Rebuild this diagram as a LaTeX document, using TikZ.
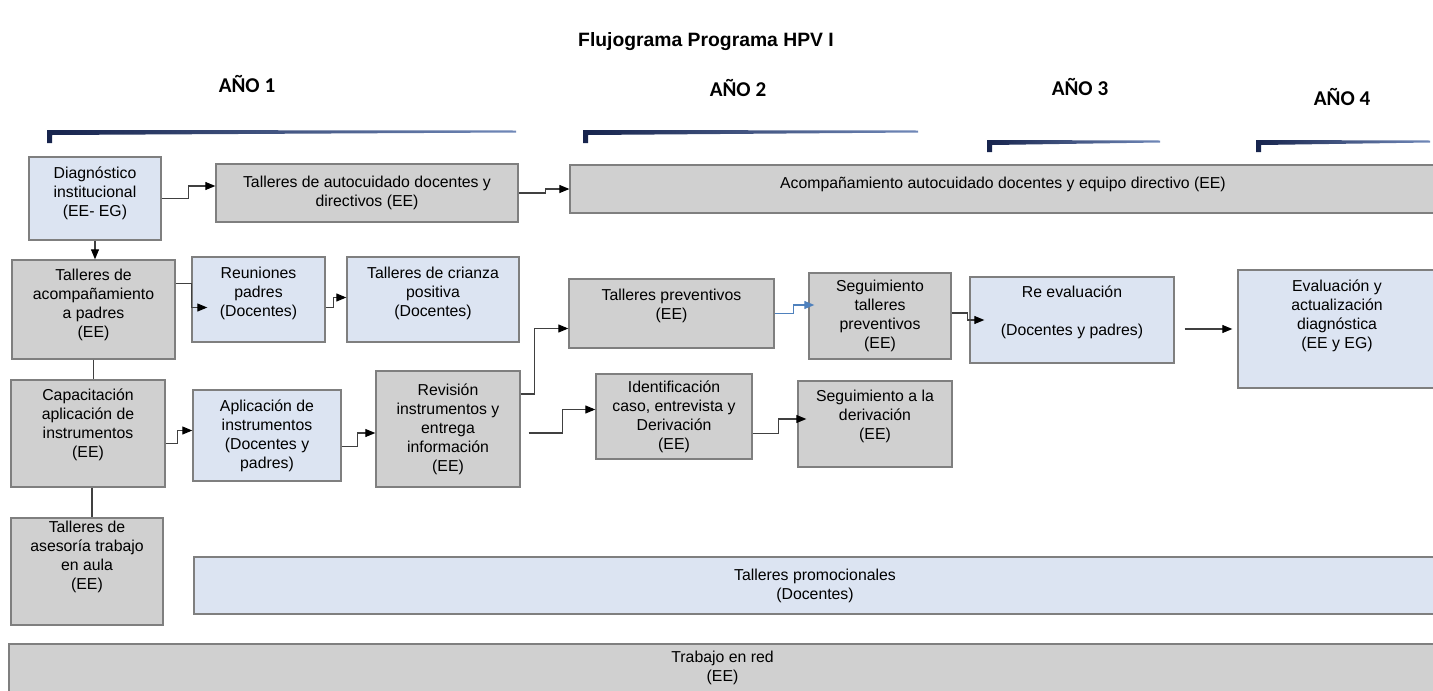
\documentclass[tikz,border=0pt]{standalone}
\usepackage{fontspec}
\setmainfont{Liberation Sans}
\newfontfamily\yearfont{Carlito}
\usetikzlibrary{arrows.meta,calc}
\definecolor{boxgray}{HTML}{D0D0D0}
\definecolor{boxblue}{HTML}{DCE4F2}
\definecolor{edgegray}{HTML}{7F7F7F}
\definecolor{linegray}{HTML}{404040}
\definecolor{navy}{HTML}{17244D}
\definecolor{navylight}{HTML}{7088B8}
\definecolor{linkblue}{HTML}{4F81BD}

\tikzset{
  flowbox/.style={draw=edgegray, line width=0.8pt, align=center, inner sep=1pt,
    font=\fontsize{9}{10.8}\selectfont},
  graybox/.style={flowbox, fill=boxgray},
  bluebox/.style={flowbox, fill=boxblue},
  lift/.style={text depth=#1},
  arr/.style={draw=linegray, line width=0.6pt,
    -{Triangle[length=0.2cm,width=0.16cm,color=black]}},
  bluearr/.style={draw=linkblue, line width=0.6pt,
    -{Triangle[length=0.2cm,width=0.16cm,color=linkblue]}},
  link/.style={draw=linegray, line width=0.6pt},
  yearlabel/.style={font=\yearfont\bfseries\fontsize{12}{14}\selectfont},
}

\begin{document}
\begin{tikzpicture}[x=0.02cm, y=-0.02cm]
\useasboundingbox (0,0) rectangle (1433,690);
\clip (0,0) rectangle (1433,690);

\node[font=\bfseries\fontsize{11}{13}\selectfont] (title) at (706,42) {Flujograma Programa HPV I};

% years
\node[yearlabel] (year1) at (247,84) {AÑO 1};
\node[yearlabel] (year2) at (738,88) {AÑO 2};
\node[yearlabel] (year3) at (1080,87) {AÑO 3};
\node[yearlabel] (year4) at (1342,97) {AÑO 4};
\foreach \xa/\xb/\yt/\yb in {47/516/130/143, 583/918/130/143, 987/1160/140/152, 1256/1430/140/152}
  \shade[left color=navy, middle color=navy, right color=navylight]
    (\xa,\yt) -- (\xb,\yt+0.5) -- (\xb,\yt+2.5) -- (\xa+5,\yt+5) -- (\xa+5,\yb) -- (\xa,\yb) -- cycle;

% row 1
\node[bluebox, minimum width=2.64cm, minimum height=1.66cm, lift=8pt] (diag) at (95,198.5)
  {Diagnóstico\\institucional\\(EE- EG)};
\node[graybox, minimum width=6.04cm, minimum height=1.16cm] (autocuid) at (367,193)
  {Talleres de autocuidado docentes y\\directivos (EE)};
\node[graybox, minimum width=17.32cm, minimum height=0.96cm, lift=7.5pt] (acomp) at (1003,189)
  {Acompañamiento autocuidado docentes y equipo directivo (EE)};

% row 2
\node[graybox, minimum width=3.26cm, minimum height=1.98cm, lift=7pt] (tpad) at (93.5,309.5)
  {Talleres de\\acompañamiento\\a padres\\(EE)};
\node[bluebox, minimum width=2.66cm, minimum height=1.70cm, lift=9pt] (reun) at (258.5,299.5)
  {Reuniones\\padres\\(Docentes)};
\node[bluebox, minimum width=3.44cm, minimum height=1.70cm, lift=9pt] (crian) at (433,299.5)
  {Talleres de crianza\\positiva\\(Docentes)};
\node[graybox, minimum width=4.10cm, minimum height=1.38cm, lift=10.5pt] (prev) at (671.5,313.5)
  {Talleres preventivos\\(EE)};
\node[graybox, minimum width=2.84cm, minimum height=1.72cm] (segprev) at (880,316)
  {Seguimiento\\talleres\\preventivos\\(EE)};
\node[bluebox, minimum width=4.08cm, minimum height=1.72cm, lift=10.5pt] (reeval) at (1072,320)
  {Re evaluación\\[11pt](Docentes y padres)};
\node[bluebox, minimum width=3.96cm, minimum height=2.36cm, lift=16.8pt] (evalu) at (1337,329)
  {Evaluación y\\actualización\\diagnóstica\\(EE y EG)};

% row 3
\node[graybox, minimum width=3.08cm, minimum height=2.14cm, lift=12pt] (capac) at (88,433.5)
  {Capacitación\\aplicación de\\instrumentos\\(EE)};
\node[bluebox, minimum width=2.96cm, minimum height=1.82cm] (aplic) at (267,435.5)
  {Aplicación de\\instrumentos\\(Docentes y\\padres)};
\node[graybox, minimum width=2.88cm, minimum height=2.32cm] (revis) at (448,429)
  {Revisión\\instrumentos y\\entrega\\información\\(EE)};
\node[graybox, minimum width=3.12cm, minimum height=1.70cm] (ident) at (674,416.5)
  {Identificación\\caso, entrevista y\\Derivación\\(EE)};
\node[graybox, minimum width=3.08cm, minimum height=1.72cm, lift=11pt] (segder) at (875,424)
  {Seguimiento a la\\derivación\\(EE)};

% bottom
\node[graybox, minimum width=3.04cm, minimum height=2.14cm, lift=18pt] (asesor) at (87,571.5)
  {Talleres de\\asesoría trabajo\\en aula\\(EE)};
\node[bluebox, minimum width=24.84cm, minimum height=1.14cm] (promo) at (815,585.5)
  {Talleres promocionales\\(Docentes)};
\node[graybox, minimum width=28.54cm, minimum height=1.12cm, lift=7pt] (trabred) at (722.5,672)
  {Trabajo en red\\(EE)};

% connectors
\draw[arr] (diag.east) -- ++(27,0) |- ($(autocuid.west)+(0,-7)$);
\draw[arr] (autocuid.east) -- ++(27,0) |- (acomp.west);
\draw[arr] (diag.south) -- (diag.south |- tpad.north);
\draw[arr] ($(tpad.east)+(0,-26)$) -- ++(16,0) |- ($(reun.west)+(16,8)$);
\draw[arr] ($(reun.east)+(0,8)$) -- ++(8,0) |- ($(crian.west)+(0,-2)$);
\draw[link] (tpad.south) -- (tpad.south |- capac.north);
\draw[link] ($(capac.south)+(4,0)$) -- ($(asesor.north)+(5,0)$);
\draw[arr] ($(capac.east)+(0,10)$) -- ++(12,0) |- ($(aplic.west)+(0,-5)$);
\draw[arr] ($(aplic.east)+(0,11)$) -- ++(16,0) |- ($(revis.west)+(0,4)$);
\draw[arr] ($(revis.east)+(0,-35)$) -- ++(14,0) |- ($(prev.west)+(0,15)$);
\draw[arr] ($(revis.east)+(8,4)$) -- ++(34,0) |- ($(ident.west)+(0,-7)$);
\draw[arr] ($(ident.east)+(0,17)$) -- ++(26,0) |- ($(segder.west)+(9,-5)$);
\draw[bluearr] (prev.east) -- ++(19,0) |- ($(segprev.west)+(6,-11)$);
\draw[arr] ($(segprev.east)+(0,-3)$) -- ++(16,0) |- ($(reeval.west)+(15,0)$);
\draw[arr] ($(reeval.east)+(10,9)$) -- ($(evalu.west)+(-5,0)$);
\end{tikzpicture}
\end{document}
